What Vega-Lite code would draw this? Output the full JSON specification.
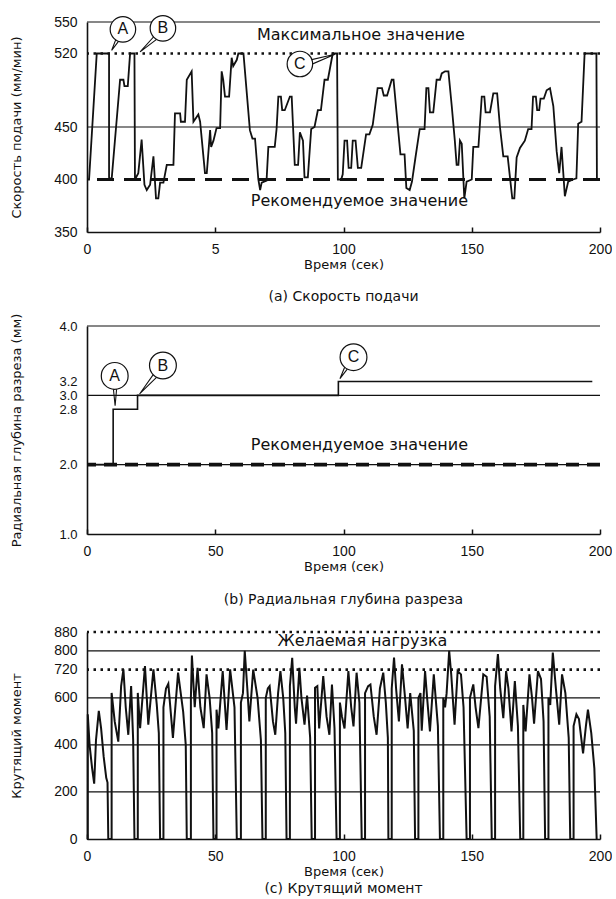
{
  "$schema": "https://vega.github.io/schema/vega-lite/v6.json",
  "padding": {"left": 10, "top": 13, "right": 0, "bottom": 0},
  "bounds": "flush",
  "spacing": 94,
  "datasets": {
    "feed": [
      {"t":0,"v":400},{"t":0.8,"v":400},{"t":3.8,"v":520},{"t":8.6,"v":520},{"t":8.6,"v":402},{"t":9.6,"v":400},
      {"t":12.9,"v":495},{"t":14.2,"v":495},{"t":14.6,"v":489},{"t":15.9,"v":489},{"t":16.8,"v":520},{"t":18.5,"v":520},
      {"t":18.7,"v":400},{"t":20.0,"v":406},{"t":21.3,"v":438},{"t":22.4,"v":395},{"t":23.3,"v":390},{"t":24.6,"v":395},
      {"t":25.9,"v":422},{"t":26.9,"v":382},{"t":27.8,"v":382},{"t":28.5,"v":397},{"t":29.8,"v":397},{"t":31.1,"v":414},
      {"t":33.7,"v":414},{"t":34.3,"v":463},{"t":36.3,"v":463},{"t":36.6,"v":455},{"t":38.2,"v":455},{"t":38.9,"v":495},
      {"t":40.8,"v":503},{"t":41.5,"v":455},{"t":43.4,"v":462},{"t":44.1,"v":455},{"t":46.0,"v":406},{"t":46.7,"v":406},
      {"t":48.0,"v":447},{"t":48.4,"v":431},{"t":49.3,"v":437},{"t":50.5,"v":449},{"t":51.9,"v":449},{"t":52.5,"v":503},
      {"t":53.1,"v":495},{"t":53.8,"v":479},{"t":55.4,"v":479},{"t":56.4,"v":516},{"t":57.0,"v":508},{"t":58.4,"v":514},
      {"t":59.0,"v":520},{"t":61.0,"v":520},{"t":63.5,"v":447},{"t":64.5,"v":439},{"t":65.5,"v":439},{"t":66.8,"v":400},
      {"t":67.5,"v":390},{"t":68.1,"v":397},{"t":70.0,"v":399},{"t":70.7,"v":431},{"t":73.2,"v":431},{"t":73.9,"v":448},
      {"t":74.6,"v":479},{"t":75.6,"v":479},{"t":76.1,"v":466},{"t":77.1,"v":466},{"t":79.1,"v":479},{"t":79.8,"v":479},
      {"t":81.0,"v":414},{"t":82.3,"v":414},{"t":83.0,"v":445},{"t":84.2,"v":437},{"t":84.8,"v":402},{"t":86.1,"v":402},
      {"t":87.4,"v":448},{"t":88.7,"v":450},{"t":90.0,"v":466},{"t":91.2,"v":466},{"t":92.6,"v":495},{"t":93.9,"v":495},
      {"t":95.8,"v":520},{"t":97.5,"v":520},{"t":97.8,"v":400},{"t":99.1,"v":400},{"t":99.7,"v":405},{"t":100.4,"v":437},
      {"t":101.4,"v":437},{"t":102.0,"v":411},{"t":103.0,"v":411},{"t":103.6,"v":437},{"t":104.7,"v":437},{"t":105.6,"v":411},
      {"t":106.9,"v":411},{"t":108.8,"v":443},{"t":110.1,"v":443},{"t":111.4,"v":452},{"t":113.3,"v":487},{"t":115.0,"v":487},
      {"t":115.7,"v":480},{"t":117.0,"v":480},{"t":118.8,"v":495},{"t":119.5,"v":495},{"t":121.2,"v":450},{"t":122.2,"v":424},
      {"t":123.8,"v":424},{"t":124.5,"v":392},{"t":125.8,"v":390},{"t":126.7,"v":398},{"t":128.0,"v":420},{"t":129.7,"v":448},
      {"t":131.6,"v":448},{"t":132.3,"v":487},{"t":133.1,"v":487},{"t":133.7,"v":464},{"t":135.0,"v":464},{"t":136.3,"v":495},
      {"t":137.6,"v":495},{"t":138.3,"v":501},{"t":139.6,"v":503},{"t":140.9,"v":503},{"t":142.2,"v":470},{"t":143.4,"v":437},
      {"t":144.1,"v":414},{"t":144.8,"v":414},{"t":145.4,"v":437},{"t":146.1,"v":434},{"t":147.1,"v":382},{"t":148.0,"v":398},
      {"t":150.0,"v":400},{"t":150.6,"v":431},{"t":152.6,"v":431},{"t":153.9,"v":479},{"t":154.9,"v":479},{"t":155.4,"v":464},
      {"t":157.1,"v":464},{"t":158.4,"v":482},{"t":159.9,"v":482},{"t":161.0,"v":450},{"t":162.3,"v":422},{"t":164.0,"v":422},
      {"t":165.8,"v":382},{"t":166.6,"v":382},{"t":167.5,"v":421},{"t":168.8,"v":430},{"t":170.7,"v":437},{"t":172.0,"v":448},
      {"t":173.3,"v":448},{"t":173.9,"v":479},{"t":175.0,"v":479},{"t":175.5,"v":466},{"t":176.3,"v":466},{"t":176.8,"v":477},
      {"t":178.1,"v":477},{"t":179.2,"v":485},{"t":180.5,"v":487},{"t":181.8,"v":470},{"t":183.1,"v":427},{"t":184.1,"v":406},
      {"t":185.0,"v":431},{"t":186.3,"v":384},{"t":187.6,"v":398},{"t":189.5,"v":400},{"t":190.8,"v":401},{"t":191.5,"v":453},
      {"t":192.8,"v":455},{"t":194.0,"v":520},{"t":198.6,"v":520},{"t":198.8,"v":400}
    ],
    "depth": [
      {"t":0,"v":2.0},{"t":10.2,"v":2.0},{"t":10.2,"v":2.8},{"t":19.7,"v":2.8},{"t":19.7,"v":3.0},
      {"t":98,"v":3.0},{"t":98,"v":3.2},{"t":197,"v":3.2}
    ],
    "torque": [
      {"t":0,"v":0},{"t":0.3,"v":0},{"t":0.3,"v":530},{"t":1.0,"v":400},{"t":2.0,"v":300},{"t":2.8,"v":235},{"t":3.5,"v":420},{"t":4.6,"v":545},{"t":5.5,"v":470},{"t":6.5,"v":350},{"t":7.5,"v":260},{"t":8.0,"v":240},{"t":8.3,"v":0},
      {"t":9.6,"v":0},{"t":9.6,"v":621},{"t":10.8,"v":500},{"t":12.2,"v":414},{"t":13.3,"v":650},{"t":14.2,"v":721},{"t":15.1,"v":560},{"t":16.1,"v":443},{"t":17.2,"v":650},{"t":18.0,"v":420},{"t":18.5,"v":0},
      {"t":19.8,"v":0},{"t":19.8,"v":621},{"t":20.7,"v":471},{"t":22.6,"v":735},{"t":23.9,"v":486},{"t":25.9,"v":721},{"t":27.2,"v":571},{"t":28.0,"v":450},{"t":28.5,"v":0},
      {"t":29.8,"v":0},{"t":29.8,"v":560},{"t":30.8,"v":640},{"t":31.7,"v":660},{"t":33.5,"v":430},{"t":35.5,"v":707},{"t":37.5,"v":540},{"t":38.5,"v":400},{"t":38.9,"v":0},
      {"t":40.5,"v":0},{"t":40.5,"v":600},{"t":40.9,"v":780},{"t":42.0,"v":560},{"t":43.1,"v":728},{"t":44.2,"v":560},{"t":45.5,"v":471},{"t":46.6,"v":700},{"t":47.8,"v":600},{"t":48.8,"v":450},{"t":49.3,"v":0},
      {"t":50.5,"v":0},{"t":50.5,"v":550},{"t":51.2,"v":470},{"t":52.9,"v":714},{"t":54.4,"v":464},{"t":55.8,"v":721},{"t":57.5,"v":560},{"t":58.4,"v":0},
      {"t":60.0,"v":0},{"t":60.0,"v":580},{"t":60.8,"v":620},{"t":61.5,"v":800},{"t":62.5,"v":640},{"t":63.3,"v":500},{"t":64.8,"v":720},{"t":66.5,"v":600},{"t":67.8,"v":420},{"t":68.4,"v":0},
      {"t":69.7,"v":0},{"t":69.7,"v":600},{"t":70.5,"v":640},{"t":71.2,"v":650},{"t":72.5,"v":500},{"t":73.4,"v":443},{"t":74.5,"v":620},{"t":75.4,"v":714},{"t":76.5,"v":600},{"t":77.3,"v":450},{"t":77.8,"v":0},
      {"t":79.1,"v":0},{"t":79.1,"v":650},{"t":80.0,"v":770},{"t":81.0,"v":560},{"t":81.5,"v":490},{"t":82.8,"v":728},{"t":83.6,"v":600},{"t":84.8,"v":486},{"t":85.8,"v":610},{"t":87.0,"v":430},{"t":87.6,"v":0},
      {"t":88.9,"v":0},{"t":88.9,"v":643},{"t":89.8,"v":650},{"t":90.5,"v":470},{"t":92.1,"v":693},{"t":93.4,"v":520},{"t":94.5,"v":443},{"t":95.5,"v":657},{"t":96.5,"v":470},{"t":97.3,"v":0},
      {"t":98.6,"v":0},{"t":98.6,"v":580},{"t":99.4,"v":520},{"t":100.4,"v":470},{"t":101.9,"v":714},{"t":103.0,"v":560},{"t":103.9,"v":479},{"t":105.1,"v":707},{"t":106.2,"v":580},{"t":107.1,"v":0},
      {"t":108.4,"v":0},{"t":108.4,"v":620},{"t":109.6,"v":650},{"t":110.5,"v":657},{"t":111.8,"v":520},{"t":112.9,"v":443},{"t":114.2,"v":640},{"t":115.5,"v":707},{"t":116.5,"v":580},{"t":117.3,"v":430},{"t":117.5,"v":0},
      {"t":118.8,"v":0},{"t":118.8,"v":640},{"t":119.7,"v":771},{"t":120.5,"v":640},{"t":121.6,"v":500},{"t":122.8,"v":743},{"t":124.0,"v":600},{"t":125.0,"v":470},{"t":126.0,"v":620},{"t":127.4,"v":460},{"t":127.9,"v":0},
      {"t":129.2,"v":0},{"t":129.2,"v":600},{"t":130.0,"v":620},{"t":130.5,"v":460},{"t":131.8,"v":714},{"t":132.6,"v":600},{"t":133.7,"v":457},{"t":135.2,"v":700},{"t":136.8,"v":480},{"t":137.6,"v":0},
      {"t":138.9,"v":0},{"t":138.9,"v":600},{"t":139.6,"v":560},{"t":140.2,"v":620},{"t":141.2,"v":800},{"t":142.0,"v":700},{"t":143.3,"v":486},{"t":144.5,"v":714},{"t":145.8,"v":700},{"t":146.8,"v":560},{"t":148.0,"v":0},
      {"t":149.3,"v":0},{"t":149.3,"v":600},{"t":150.6,"v":657},{"t":151.5,"v":560},{"t":152.6,"v":471},{"t":154.5,"v":700},{"t":155.8,"v":690},{"t":157.0,"v":520},{"t":157.8,"v":0},
      {"t":159.1,"v":0},{"t":159.1,"v":650},{"t":160.2,"v":786},{"t":161.1,"v":640},{"t":162.3,"v":514},{"t":163.4,"v":714},{"t":164.3,"v":640},{"t":165.5,"v":457},{"t":166.8,"v":671},{"t":168.0,"v":480},{"t":168.9,"v":0},
      {"t":170.1,"v":0},{"t":170.1,"v":570},{"t":171.0,"v":457},{"t":172.5,"v":700},{"t":173.5,"v":600},{"t":174.3,"v":490},{"t":175.8,"v":714},{"t":177.0,"v":680},{"t":178.0,"v":500},{"t":178.6,"v":0},
      {"t":179.9,"v":0},{"t":179.9,"v":600},{"t":180.6,"v":570},{"t":181.6,"v":793},{"t":182.8,"v":640},{"t":184.1,"v":486},{"t":185.2,"v":700},{"t":186.5,"v":620},{"t":187.8,"v":430},{"t":188.4,"v":0},
      {"t":189.7,"v":0},{"t":189.7,"v":480},{"t":190.8,"v":530},{"t":191.8,"v":510},{"t":193.4,"v":364},{"t":194.5,"v":480},{"t":195.3,"v":550},{"t":196.6,"v":450},{"t":197.8,"v":300},{"t":198.7,"v":0}
    ]
  },
  "vconcat": [
    {
      "width": 513,
      "height": 210,
      "title": {"text": "(a) Скорость подачи", "orient": "bottom", "offset": 19},
      "layer": [
        {
          "data": {"name": "feed"},
          "mark": {"type": "line", "color": "#111", "strokeWidth": 1.8},
          "encoding": {
            "x": {"field": "t", "type": "quantitative", "title": "Время (сек)", "scale": {"domain": [0, 200], "nice": false},
                  "axis": {"values": [0, 50, 100, 150, 200], "labelExpr": "datum.value == 50 ? '5' : datum.label"}},
            "y": {"field": "v", "type": "quantitative", "title": "Скорость подачи (мм/мин)", "scale": {"domain": [350, 550], "nice": false},
                  "axis": {"values": [350, 400, 450, 520, 550], "labelOverlap": false}},
            "order": {"value": null}
          }
        },
        {
          "data": {"values": [{"v": 550}, {"v": 450}]},
          "mark": {"type": "rule", "color": "#111", "strokeWidth": 1.1},
          "encoding": {"y": {"field": "v", "type": "quantitative", "title": "Скорость подачи (мм/мин)"}}
        },
        {
          "data": {"values": [{"v": 520}]},
          "mark": {"type": "rule", "color": "#111", "strokeWidth": 2.6, "strokeDash": [2.5, 4.5]},
          "encoding": {"y": {"field": "v", "type": "quantitative", "title": "Скорость подачи (мм/мин)"}}
        },
        {
          "data": {"values": [{"v": 400}]},
          "mark": {"type": "rule", "color": "#111", "strokeWidth": 3.2, "strokeDash": [17, 10]},
          "encoding": {"y": {"field": "v", "type": "quantitative", "title": "Скорость подачи (мм/мин)"}}
        },
        {
          "data": {"values": [
            {"id": "A", "t": 12.3, "v": 540}, {"id": "A", "t": 9.6, "v": 523}, {"id": "A", "t": 14.0, "v": 537},
            {"id": "B", "t": 27.5, "v": 540}, {"id": "B", "t": 20.7, "v": 521.5}, {"id": "B", "t": 28.8, "v": 536.5},
            {"id": "C", "t": 85.5, "v": 513}, {"id": "C", "t": 96.7, "v": 519.3}, {"id": "C", "t": 85.5, "v": 507.5}
          ]},
          "mark": {"type": "line", "color": "#111", "strokeWidth": 1.1},
          "encoding": {
            "x": {"field": "t", "type": "quantitative", "title": "Время (сек)"},
            "y": {"field": "v", "type": "quantitative", "title": "Скорость подачи (мм/мин)"},
            "detail": {"field": "id"},
            "order": {"value": null}
          }
        },
        {
          "data": {"values": [{"id": "A", "t": 14.0, "v": 543}, {"id": "B", "t": 29.6, "v": 544}, {"id": "C", "t": 83.0, "v": 510}]},
          "mark": {"type": "point", "shape": "circle", "filled": true, "fill": "white", "stroke": "#111", "strokeWidth": 1.2, "size": 650, "opacity": 1},
          "encoding": {
            "x": {"field": "t", "type": "quantitative", "title": "Время (сек)"},
            "y": {"field": "v", "type": "quantitative", "title": "Скорость подачи (мм/мин)"}
          }
        },
        {
          "data": {"values": [{"id": "A", "t": 14.0, "v": 543}, {"id": "B", "t": 29.6, "v": 544}, {"id": "C", "t": 83.0, "v": 510}]},
          "mark": {"type": "text", "font": "Liberation Sans", "fontSize": 16, "color": "#111", "baseline": "middle", "align": "center"},
          "encoding": {
            "x": {"field": "t", "type": "quantitative", "title": "Время (сек)"},
            "y": {"field": "v", "type": "quantitative", "title": "Скорость подачи (мм/мин)"},
            "text": {"field": "id"}
          }
        },
        {
          "data": {"values": [{"label": "Максимальное значение", "t": 106.8, "v": 537.4}, {"label": "Рекомендуемое значение", "t": 106.2, "v": 379.5}]},
          "mark": {"type": "text", "font": "DejaVu Sans", "fontSize": 16, "color": "#111", "baseline": "middle", "align": "center"},
          "encoding": {
            "x": {"field": "t", "type": "quantitative", "title": "Время (сек)"},
            "y": {"field": "v", "type": "quantitative", "title": "Скорость подачи (мм/мин)"},
            "text": {"field": "label"}
          }
        }
      ]
    },
    {
      "spacing": 98,
      "bounds": "flush",
      "vconcat": [
        {
          "width": 513,
          "height": 208,
          "title": {"text": "(b) Радиальная глубина разреза", "orient": "bottom", "offset": 20},
          "layer": [
            {
              "data": {"name": "depth"},
              "mark": {"type": "line", "color": "#111", "strokeWidth": 1.6},
              "encoding": {
                "x": {"field": "t", "type": "quantitative", "title": "Время (сек)", "scale": {"domain": [0, 200], "nice": false},
                      "axis": {"values": [0, 50, 100, 150, 200]}},
                "y": {"field": "v", "type": "quantitative", "title": "Радиальная глубина разреза (мм)", "scale": {"domain": [1, 4], "nice": false},
                      "axis": {"values": [1, 2, 2.8, 3, 3.2, 4], "format": ".1f", "titlePadding": 35, "labelOverlap": false, "labelFontSize": 13}},
                "order": {"value": null}
              }
            },
            {
              "data": {"values": [{"v": 4.0}, {"v": 3.0}, {"v": 2.0}]},
              "mark": {"type": "rule", "color": "#111", "strokeWidth": 1.1},
              "encoding": {"y": {"field": "v", "type": "quantitative", "title": "Радиальная глубина разреза (мм)"}}
            },
            {
              "data": {"values": [{"v": 2.0}]},
              "mark": {"type": "rule", "color": "#111", "strokeWidth": 3.6, "strokeDash": [13, 8]},
              "encoding": {"y": {"field": "v", "type": "quantitative", "title": "Радиальная глубина разреза (мм)"}}
            },
            {
              "data": {"values": [
                {"id": "A", "t": 10.0, "v": 3.2}, {"id": "A", "t": 10.96, "v": 2.85}, {"id": "A", "t": 11.8, "v": 3.2},
                {"id": "B", "t": 27.0, "v": 3.36}, {"id": "B", "t": 20.5, "v": 3.02}, {"id": "B", "t": 28.5, "v": 3.31},
                {"id": "C", "t": 101.5, "v": 3.5}, {"id": "C", "t": 98.6, "v": 3.24}, {"id": "C", "t": 103.2, "v": 3.46}
              ]},
              "mark": {"type": "line", "color": "#111", "strokeWidth": 1.1},
              "encoding": {
                "x": {"field": "t", "type": "quantitative", "title": "Время (сек)"},
                "y": {"field": "v", "type": "quantitative", "title": "Радиальная глубина разреза (мм)"},
                "detail": {"field": "id"},
                "order": {"value": null}
              }
            },
            {
              "data": {"values": [{"id": "A", "t": 10.8, "v": 3.28}, {"id": "B", "t": 29.6, "v": 3.43}, {"id": "C", "t": 103.9, "v": 3.55}]},
              "mark": {"type": "point", "shape": "circle", "filled": true, "fill": "white", "stroke": "#111", "strokeWidth": 1.2, "size": 720, "opacity": 1},
              "encoding": {
                "x": {"field": "t", "type": "quantitative", "title": "Время (сек)"},
                "y": {"field": "v", "type": "quantitative", "title": "Радиальная глубина разреза (мм)"}
              }
            },
            {
              "data": {"values": [{"id": "A", "t": 10.8, "v": 3.28}, {"id": "B", "t": 29.6, "v": 3.43}, {"id": "C", "t": 103.9, "v": 3.55}]},
              "mark": {"type": "text", "font": "Liberation Sans", "fontSize": 16, "color": "#111", "baseline": "middle", "align": "center"},
              "encoding": {
                "x": {"field": "t", "type": "quantitative", "title": "Время (сек)"},
                "y": {"field": "v", "type": "quantitative", "title": "Радиальная глубина разреза (мм)"},
                "text": {"field": "id"}
              }
            },
            {
              "data": {"values": [{"label": "Рекомендуемое значение", "t": 106.2, "v": 2.28}]},
              "mark": {"type": "text", "font": "DejaVu Sans", "fontSize": 16, "color": "#111", "baseline": "middle", "align": "center"},
              "encoding": {
                "x": {"field": "t", "type": "quantitative", "title": "Время (сек)"},
                "y": {"field": "v", "type": "quantitative", "title": "Радиальная глубина разреза (мм)"},
                "text": {"field": "label"}
              }
            }
          ]
        },
        {
          "width": 513,
          "height": 207,
          "title": {"text": "(c) Крутящий момент", "orient": "bottom", "offset": 4},
          "layer": [
            {
              "data": {"name": "torque"},
              "mark": {"type": "line", "color": "#111", "strokeWidth": 2},
              "encoding": {
                "x": {"field": "t", "type": "quantitative", "title": "Время (сек)", "scale": {"domain": [0, 200], "nice": false},
                      "axis": {"values": [0, 50, 100, 150, 200]}},
                "y": {"field": "v", "type": "quantitative", "title": "Крутящий момент", "scale": {"domain": [0, 880], "nice": false},
                      "axis": {"values": [0, 200, 400, 600, 720, 800, 880], "labelOverlap": false, "tickCount": 10}},
                "order": {"value": null}
              }
            },
            {
              "data": {"values": [{"v": 800}, {"v": 600}, {"v": 400}, {"v": 200}]},
              "mark": {"type": "rule", "color": "#111", "strokeWidth": 1.2},
              "encoding": {"y": {"field": "v", "type": "quantitative", "title": "Крутящий момент",
                                 "axis": {"values": [0, 200, 400, 600, 720, 800, 880], "labelOverlap": false, "tickCount": 10}}}
            },
            {
              "data": {"values": [{"v": 880}, {"v": 720}]},
              "mark": {"type": "rule", "color": "#111", "strokeWidth": 2.6, "strokeDash": [2.5, 4.5]},
              "encoding": {"y": {"field": "v", "type": "quantitative", "title": "Крутящий момент",
                                 "axis": {"values": [0, 200, 400, 600, 720, 800, 880], "labelOverlap": false, "tickCount": 10}}}
            },
            {
              "data": {"values": [{"label": "Желаемая нагрузка", "t": 107.4, "v": 842}]},
              "mark": {"type": "text", "font": "DejaVu Sans", "fontSize": 16, "color": "#111", "baseline": "middle", "align": "center"},
              "encoding": {
                "x": {"field": "t", "type": "quantitative", "title": "Время (сек)"},
                "y": {"field": "v", "type": "quantitative", "title": "Крутящий момент",
                      "axis": {"values": [0, 200, 400, 600, 720, 800, 880], "labelOverlap": false, "tickCount": 10}},
                "text": {"field": "label"}
              }
            }
          ]
        }
      ]
    }
  ],
  "config": {
    "view": {"stroke": null},
    "axis": {
      "grid": false,
      "labelOverlap": false,
      "domainColor": "#111",
      "domainWidth": 1.6,
      "tickColor": "#111",
      "labelFont": "Liberation Sans",
      "labelFontSize": 14,
      "labelColor": "#111",
      "titleFont": "DejaVu Sans",
      "titleFontSize": 13,
      "titleFontWeight": "normal",
      "titleColor": "#111"
    },
    "axisX": {"tickSize": -5, "tickWidth": 1.5, "labelPadding": 15, "titlePadding": 2, "labelFlush": false},
    "axisY": {"ticks": false, "labelPadding": 10, "titlePadding": 30},
    "title": {"font": "DejaVu Sans", "fontSize": 14, "fontWeight": "normal", "color": "#111"}
  }
}
